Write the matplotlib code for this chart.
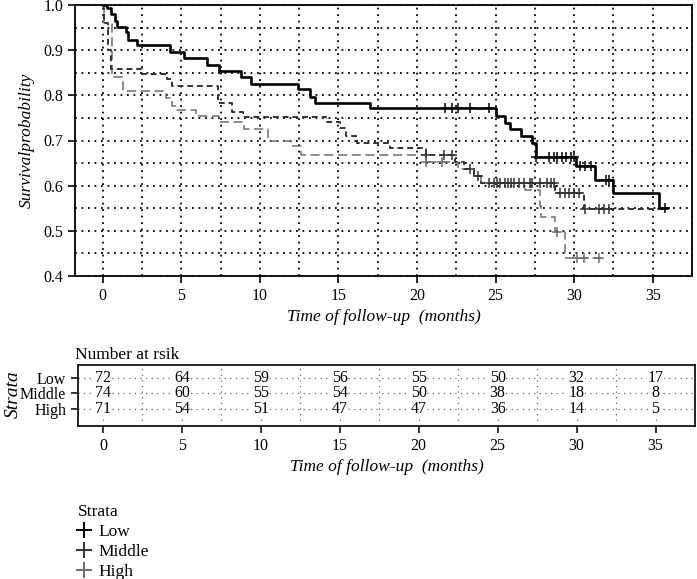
import numpy as np
import matplotlib
matplotlib.use("Agg")
import matplotlib.pyplot as plt
from matplotlib.lines import Line2D

plt.rcParams['font.family'] = ['Liberation Serif', 'DejaVu Serif']

# ---------------- data ----------------
strata = ["Low", "Middle", "High"]

low_t = [0, 0.25, 0.55, 0.76, 0.9, 1.5, 1.6, 2.2, 4.3, 5.15, 6.6, 7.4, 8.8, 9.45, 12.4, 13.2,
         13.5, 17.0, 25.05, 25.6, 25.9, 26.6, 27.3, 27.6, 30.1, 31.3, 32.5, 35.4]
low_s = [1.0, 0.993, 0.98, 0.965, 0.951, 0.94, 0.923, 0.911, 0.897, 0.882, 0.867, 0.854, 0.84,
         0.826, 0.813, 0.797, 0.782, 0.771, 0.754, 0.739, 0.726, 0.709, 0.695, 0.664, 0.643,
         0.613, 0.584, 0.551]
low_end = 35.9
low_cens = [21.8, 22.2, 22.6, 23.4, 24.6, 27.6, 28.4, 28.7, 28.9, 29.2, 29.5, 29.8, 30.0,
            30.4, 30.7, 31.1, 32.0, 32.2, 35.8]

mid_t = [0, 0.1, 0.3, 0.5, 2.5, 4.1, 4.4, 7.3, 8.2, 8.9, 14.2, 15.1, 15.5, 16.2, 18.3, 20.6,
         22.4, 23.0, 23.6, 24.1, 28.8, 30.6]
mid_s = [1.0, 0.96, 0.90, 0.858, 0.847, 0.836, 0.82, 0.782, 0.764, 0.751, 0.742, 0.728, 0.709,
         0.695, 0.684, 0.669, 0.653, 0.638, 0.622, 0.607, 0.584, 0.549]
mid_end = 36.0
mid_cens = [20.6, 21.7, 22.2, 23.4, 23.9, 24.6, 24.9, 25.1, 25.3, 25.6, 25.8, 26.0, 26.2,
            26.5, 26.8, 27.2, 27.3, 27.8, 28.3, 28.5, 28.7, 29.1, 29.4, 29.7, 30.0, 30.3,
            30.7, 31.6, 31.9, 32.2]

high_t = [0, 0.05, 0.6, 1.3, 4.0, 4.4, 4.7, 5.9, 7.4, 9.0, 10.5, 12.0, 12.6, 20.6, 22.6, 23.6,
          24.1, 26.9, 27.8, 27.9, 28.8, 29.4]
high_s = [1.0, 0.96, 0.84, 0.81, 0.795, 0.776, 0.767, 0.754, 0.74, 0.725, 0.70, 0.687, 0.669,
          0.653, 0.638, 0.622, 0.607, 0.591, 0.556, 0.531, 0.498, 0.44]
high_end = 31.7
high_cens = [20.6, 21.6, 28.9, 30.2, 30.6, 31.6]

risk_times = [0, 5, 10, 15, 20, 25, 30, 35]
risk_low = [72, 64, 59, 56, 55, 50, 32, 17]
risk_mid = [74, 60, 55, 54, 50, 38, 18, 8]
risk_high = [71, 54, 51, 47, 47, 36, 14, 5]

# ---------------- styles ----------------
colors = ["#000000", "#333333", "#6e6e6e"]
styles = ["-", (0, (3, 2)), (0, (6, 3))]
widths = [1.9, 1.4, 1.1]

W, H = 697, 579
fig = plt.figure(figsize=(W / 100, H / 100), dpi=100)

def fx(px):
    return px / W

def fy(py):
    return 1 - py / H

grid_kw = dict(color="black", linestyle=(0, (1, 2.6)), linewidth=1.3)

# main axes
ax = fig.add_axes([fx(75), fy(276), fx(692) - fx(75), fy(5) - fy(276)])
ax.set_xlim(-1.77, 37.28)
ax.set_ylim(0.4, 1.0)
ax.set_xticks(np.arange(0, 40, 5))
ax.set_xticks(np.arange(2.5, 40, 5), minor=True)
ax.set_yticks(np.arange(0.4, 1.01, 0.1))
ax.set_yticks(np.arange(0.45, 1.0, 0.1), minor=True)
ax.set_yticklabels([f"{v:.1f}" for v in np.arange(0.4, 1.01, 0.1)])
ax.grid(which="both", **grid_kw)
ax.set_axisbelow(True)
ax.tick_params(which="minor", length=0)
ax.tick_params(which="major", direction="out", length=5, width=1.2, labelsize=11.5)

curves = [(low_t, low_s, low_end, low_cens),
          (mid_t, mid_s, mid_end, mid_cens),
          (high_t, high_s, high_end, high_cens)]
for i, (t, s, tend, cens) in enumerate(curves):
    tt = list(t) + [tend]
    ss = list(s) + [s[-1]]
    ax.step(tt, ss, where="post", color=colors[i], linestyle=styles[i], linewidth=widths[i], zorder=3 - i * 0.1)
    idx = np.searchsorted(np.array(t), np.array(cens), side="right") - 1
    cy = np.array(s)[idx]
    ax.plot(cens, cy, linestyle="none", marker="+", markersize=7, markeredgewidth=1.1,
            color=colors[i], zorder=4)

for sp in ax.spines.values():
    sp.set_linewidth(1.3)
    sp.set_color("black")

ax.set_xlabel("Time of follow-up  (months)", fontstyle="italic", fontsize=12.5, labelpad=4)
ax.set_ylabel("Survivalprobability", fontstyle="italic", fontsize=12.5, labelpad=6)

# risk table
rt = fig.add_axes([fx(78), fy(426), fx(695) - fx(78), fy(365) - fy(426)])
rt.set_xlim(-1.58, 37.4)
rt.set_ylim(-0.1, 3.84)
rt.set_xticks(risk_times)
rt.set_xticks(np.arange(2.5, 40, 5), minor=True)
rt.set_yticks([3, 2, 1])
rt.set_yticklabels(strata)
rt.grid(which="both", color="black", linestyle=(0, (1, 3.5)), linewidth=0.9, alpha=0.6)
rt.tick_params(which="minor", length=0)
rt.tick_params(which="major", direction="out", length=5, width=1.1, labelsize=11.5)
for sp in rt.spines.values():
    sp.set_linewidth(1.2)
for row, vals in zip([3, 2, 1], [risk_low, risk_mid, risk_high]):
    for tx, v in zip(risk_times, vals):
        rt.text(tx, row, str(v), ha="center", va="center", fontsize=11.5,
                bbox=dict(facecolor="white", edgecolor="none", pad=0.5))
rt.set_xlabel("Time of follow-up  (months)", fontstyle="italic", fontsize=12.5, labelpad=4)
fig.text(fx(13), fy(394), "Strata", fontstyle="italic", fontsize=14,
         rotation=90, ha="center", va="center")
fig.text(fx(75), fy(355), "Number at rsik", fontsize=12.5, ha="left", va="center")

# legend
handles = [Line2D([], [], linestyle="none", marker="+", markersize=11, markeredgewidth=1.4,
                  color=c) for c in colors]
leg = fig.legend(handles, strata, title="Strata", loc="upper left",
                 bbox_to_anchor=(fx(67), fy(494)), frameon=False, fontsize=12.5,
                 title_fontsize=12.5, handlelength=0.8, handletextpad=0.4, labelspacing=0.22,
                 borderpad=0.1)
leg._legend_box.align = "left"

fig.savefig("out.png", dpi=100)
